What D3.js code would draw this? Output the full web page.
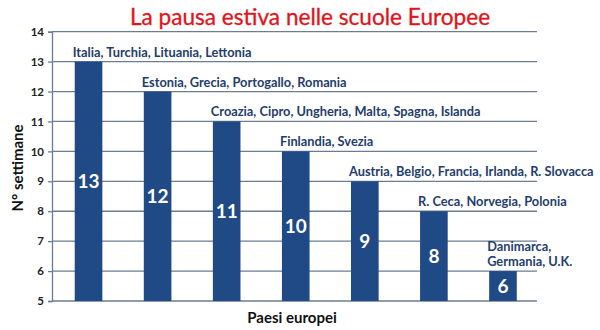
<!DOCTYPE html>
<html><head><meta charset="utf-8">
<script src="https://cdn.jsdelivr.net/npm/d3@7"></script>
<style>body{margin:0;background:#fff}</style>
</head><body>
<svg id="c" width="600" height="330"></svg>
<script>
const values = [13, 12, 11, 10, 9, 8, 6];
const countryLabels = [
  ["Italia, Turchia, Lituania, Lettonia"],
  ["Estonia, Grecia, Portogallo, Romania"],
  ["Croazia, Cipro, Ungheria, Malta, Spagna, Islanda"],
  ["Finlandia, Svezia"],
  ["Austria, Belgio, Francia, Irlanda, R. Slovacca"],
  ["R. Ceca, Norvegia, Polonia"],
  ["Danimarca,", "Germania, U.K."]
];
const yTicks = [5, 6, 7, 8, 9, 10, 11, 12, 13, 14];
const title = "La pausa estiva nelle scuole Europee";
const yTitle = "N° settimane";
const xTitle = "Paesi europei";

const svg = d3.select("#c");
const font = "Lato, 'Open Sans', sans-serif";
const x = d3.scaleBand().domain(d3.range(values.length)).range([54, 537.5]).paddingInner(0.6).paddingOuter(0.3);
const y = d3.scaleLinear().domain([5, 14]).range([301, 31.7]);
const gridColor = "#6b7d93";

// gridlines
svg.append("g").selectAll("line").data(yTicks.slice(1)).join("line")
  .attr("x1", 52).attr("x2", 537).attr("y1", d => y(d)).attr("y2", d => y(d))
  .attr("stroke", gridColor).attr("stroke-width", 1.3);

// y axis
const yAxis = svg.append("g").attr("transform", "translate(52,0)")
  .call(d3.axisLeft(y).tickValues(yTicks).tickSize(4).tickPadding(4));
yAxis.select(".domain").attr("stroke", gridColor).attr("stroke-width", 1.3);
yAxis.selectAll(".tick line").attr("stroke", gridColor).attr("stroke-width", 1.3);
yAxis.selectAll("text").attr("font-family", font).attr("font-size", 11.5).attr("font-weight", "bold").attr("fill", "#222");

// x baseline
svg.append("line").attr("x1", 52).attr("x2", 537).attr("y1", y(5)).attr("y2", y(5))
  .attr("stroke", gridColor).attr("stroke-width", 1.3);

// bars
svg.append("g").selectAll("rect").data(values).join("rect")
  .attr("x", (d, i) => x(i)).attr("width", x.bandwidth())
  .attr("y", d => y(d)).attr("height", d => y(5) - y(d))
  .attr("fill", "#1f4a86");

// value labels
svg.append("g").selectAll("text").data(values).join("text")
  .attr("x", (d, i) => x(i) + x.bandwidth() / 2)
  .attr("y", d => (y(d) + y(5)) / 2)
  .attr("dy", "0.36em").attr("text-anchor", "middle")
  .attr("font-family", font).attr("font-size", 19).attr("font-weight", "bold")
  .attr("fill", "#fff").text(d => d);

// country labels
const cl = svg.append("g").selectAll("text").data(values).join("text")
  .attr("font-family", font).attr("font-size", 12.8).attr("font-weight", "bold")
  .attr("fill", "#1f3d6e");
cl.each(function(d, i) {
  const lines = countryLabels[i];
  const t = d3.select(this);
  lines.forEach((s, j) => {
    t.append("tspan").attr("x", x(i) - 2)
      .attr("y", y(d) - 5 - (lines.length - 1 - j) * 15).text(s);
  });
});

// title
svg.append("text").attr("x", 310).attr("y", 25).attr("text-anchor", "middle")
  .attr("font-family", font).attr("font-size", 22.6).attr("fill", "#e0141b")
  .attr("stroke", "#e0141b").attr("stroke-width", 0.3).text(title);

// axis titles
svg.append("text").attr("transform", "translate(23,168) rotate(-90)").attr("text-anchor", "middle")
  .attr("font-family", font).attr("font-size", 15).attr("font-weight", "bold").attr("fill", "#111").text(yTitle);
svg.append("text").attr("x", 292).attr("y", 323).attr("text-anchor", "middle")
  .attr("font-family", font).attr("font-size", 15).attr("font-weight", "bold").attr("fill", "#111").text(xTitle);
</script>
</body></html>
